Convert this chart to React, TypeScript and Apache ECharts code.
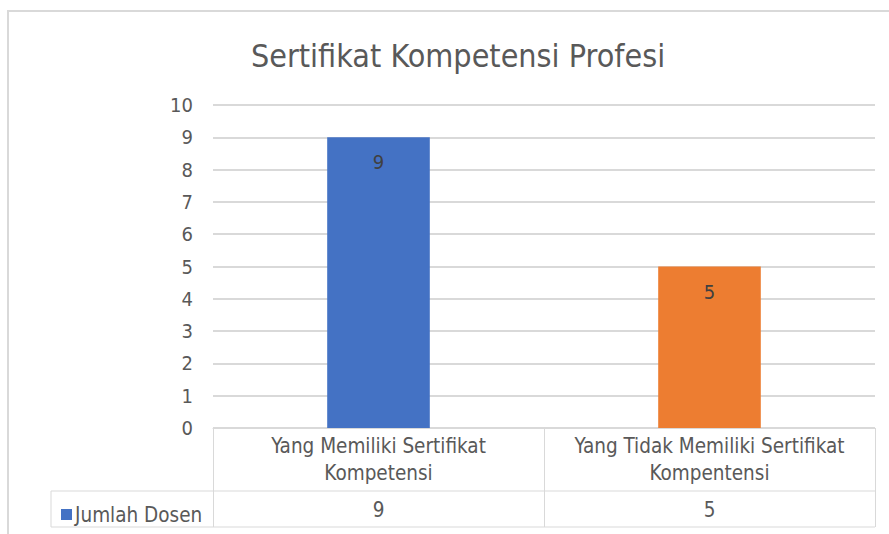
import React, { useEffect, useRef } from "react";
import * as echarts from "echarts";

const title = "Sertifikat Kompetensi Profesi";
const seriesName = "Jumlah Dosen";
const categories = ["Yang Memiliki Sertifikat\nKompetensi", "Yang Tidak Memiliki Sertifikat\nKompentensi"];
const values = [9, 5];
const barColors = ["#4472c4", "#ed7d31"];
const yTicks = { min: 0, max: 10, interval: 1 };

const FONT = "'Liberation Sans Narrow', 'DejaVu Sans Condensed', sans-serif";
const GRID = "#d9d9d9";
const TEXT = "#595959";

export default function App() {
  const ref = useRef<HTMLDivElement>(null);
  useEffect(() => {
    document.body.style.margin = "0";
    const chart = echarts.init(ref.current!, null, { renderer: "svg" });
    chart.setOption({
      animation: false,
      backgroundColor: "#ffffff",
      textStyle: { fontFamily: FONT },
      title: {
        text: title,
        left: 246,
        top: 35,
        textStyle: { fontFamily: FONT, fontSize: 32, fontWeight: "normal", color: TEXT },
      },
      legend: {
        left: 56,
        top: 499,
        icon: "rect",
        itemWidth: 11,
        itemHeight: 11,
        itemGap: 4,
        textStyle: { fontFamily: FONT, fontSize: 20.5, color: TEXT, padding: [0, 0, 0, -2] },
        data: [{ name: seriesName, itemStyle: { color: barColors[0] } }],
      },
      grid: { left: 213, right: 14, top: 105, bottom: 106, containLabel: false },
      xAxis: {
        type: "category",
        data: categories,
        axisLine: { show: true, lineStyle: { color: GRID, width: 1 } },
        axisTick: { show: true, length: 99, interval: 0, lineStyle: { color: GRID, width: 1 } },
        axisLabel: {
          interval: 0,
          margin: 4,
          formatter: (v: string, i: number) => {
            const lines = v.split("\n").map((l) => `{c|${l}}`).join("\n");
            return `${lines}\n{v|${values[i]}}`;
          },
          rich: {
            c: { fontFamily: FONT, fontSize: 20.5, color: TEXT, lineHeight: 27, align: "center" },
            v: { fontFamily: FONT, fontSize: 20.5, color: TEXT, lineHeight: 47, align: "center" },
          },
        },
      },
      yAxis: {
        type: "value",
        min: yTicks.min,
        max: yTicks.max,
        interval: yTicks.interval,
        axisLine: { show: false },
        axisTick: { show: false },
        axisLabel: { fontFamily: FONT, fontSize: 20, color: TEXT, margin: 20 },
        splitLine: { lineStyle: { color: GRID, width: 2 } },
      },
      series: [
        {
          name: seriesName,
          type: "bar",
          barWidth: "31%",
          itemStyle: { color: barColors[0] },
          data: values.map((v, i) => ({ value: v, itemStyle: { color: barColors[i] } })),
          label: {
            show: true,
            position: "insideTop",
            distance: 15,
            fontFamily: FONT,
            fontSize: 20,
            color: "#404040",
          },
        },
      ],
      graphic: [
        {
          type: "rect",
          shape: { x: 8, y: 11, width: 900, height: 600 },
          style: { fill: "none", stroke: GRID, lineWidth: 2 },
          silent: true,
        },
        {
          type: "line",
          shape: { x1: 51, y1: 491, x2: 875, y2: 491 },
          style: { stroke: GRID, lineWidth: 1 },
        },
        {
          type: "line",
          shape: { x1: 51, y1: 527, x2: 875, y2: 527 },
          style: { stroke: GRID, lineWidth: 1 },
        },
        {
          type: "line",
          shape: { x1: 51, y1: 491, x2: 51, y2: 527 },
          style: { stroke: GRID, lineWidth: 1 },
        },
      ],
    });
    return () => chart.dispose();
  }, []);
  return <div ref={ref} style={{ width: 889, height: 534 }} />;
}
